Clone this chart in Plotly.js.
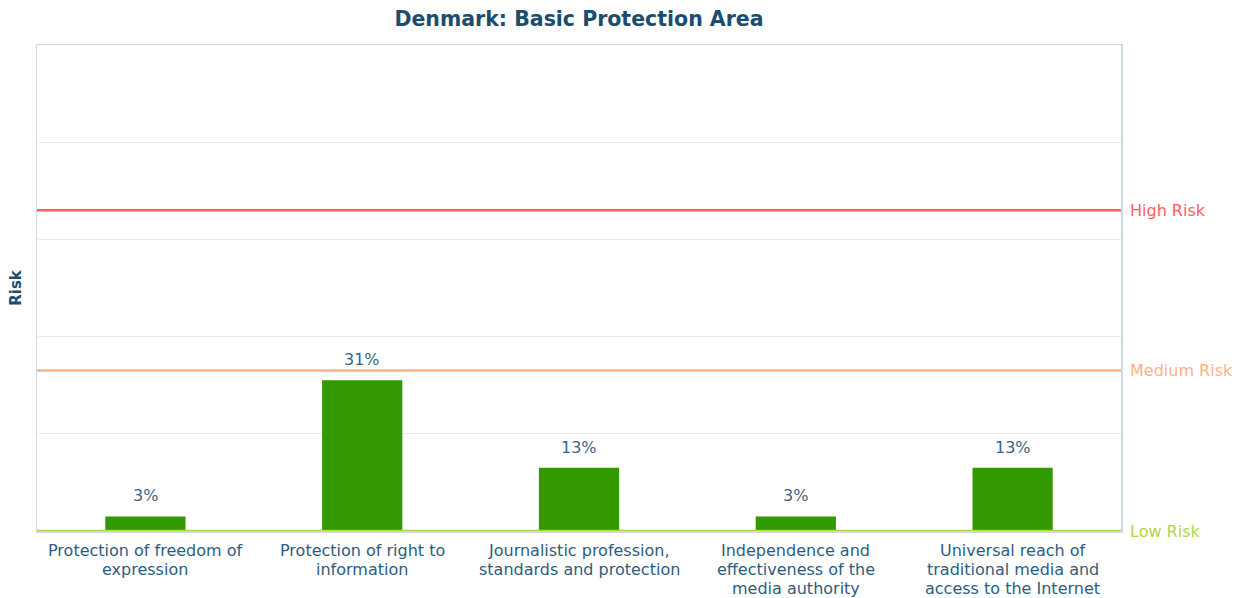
<!DOCTYPE html>
<html>
<head>
<meta charset="utf-8">
<script src="https://cdn.plot.ly/plotly-3.0.1.min.js"></script>
<style>html,body{margin:0;padding:0;background:#fff;}#chart{width:1241px;height:598px;}</style>
</head>
<body>
<div id="chart"></div>
<script>
const categories = [
  "Protection of freedom of<br>expression",
  "Protection of right to<br>information",
  "Journalistic profession,<br>standards and protection",
  "Independence and<br>effectiveness of the<br>media authority",
  "Universal reach of<br>traditional media and<br>access to the Internet"
];
const riskValues = [3, 31, 13, 3, 13];
const riskLabels = ["3%", "31%", "13%", "3%", "13%"];
const thresholdNames = ["High Risk", "Medium Risk", "Low Risk"];
const thresholdValues = [66, 33, 0];
const thresholdColors = ["#ff5c5c", "#ffb184", "#b3d447"];

const font = "DejaVu Sans, sans-serif";
const textColor = "#2d5d7d";

const trace = {
  type: "bar",
  x: categories,
  y: riskValues,
  marker: {color: "#339900"},
  width: 0.37,
  hoverinfo: "none"
};

const shapes = thresholdValues.map((v, i) => ({
  type: "line", xref: "paper", x0: 0, x1: 1, yref: "y", y0: v, y1: v,
  line: {color: thresholdColors[i], width: 2.5}, layer: "above"
}));

let annotations = thresholdValues.map((v, i) => ({
  xref: "paper", x: 1, xanchor: "left", xshift: 7,
  yref: "y", y: v, yanchor: "middle",
  text: thresholdNames[i], showarrow: false,
  font: {family: font, size: 16, color: thresholdColors[i]}
})).concat(categories.map((c, i) => ({
  xref: "x", x: c, yref: "y", y: riskValues[i], yanchor: "bottom", yshift: 9,
  text: riskLabels[i], showarrow: false,
  font: {family: font, size: 16, color: "#3a6585"}
})));

// category labels (one annotation per line for tighter line spacing)
categories.forEach((c) => {
  c.split("<br>").forEach((line, k) => {
    annotations.push({
      xref: "x", x: c, yref: "paper", y: 0, yanchor: "middle",
      yshift: -(19 + 19 * k),
      text: line, showarrow: false,
      font: {family: font, size: 16, color: textColor}
    });
  });
});

const layout = {
  width: 1241, height: 598,
  margin: {l: 37, r: 120, t: 45, b: 67},
  paper_bgcolor: "#ffffff", plot_bgcolor: "#ffffff",
  showlegend: false,
  title: {
    text: "<b>Denmark: Basic Protection Area</b>",
    x: 0.5, xref: "paper", y: 0.968, yanchor: "middle",
    font: {family: font, size: 20.5, color: "#1c4c6e"}
  },
  xaxis: {
    showline: true, mirror: true, linecolor: "#cdd9e2", linewidth: 1.5,
    showgrid: false, zeroline: false, ticks: "", showticklabels: false
  },
  yaxis: {
    range: [0, 100], dtick: 20, showticklabels: false,
    showgrid: true, gridcolor: "#e9edf0", gridwidth: 1,
    showline: true, mirror: true, linecolor: "#cdd9e2", linewidth: 1.5,
    zeroline: false, ticks: "",
    title: {text: "<b>Risk</b>", standoff: 10, font: {family: font, size: 15, color: "#1c4c6e"}}
  },
  shapes: shapes,
  annotations: annotations
};

Plotly.newPlot("chart", [trace], layout, {displayModeBar: false, staticPlot: true});
</script>
</body>
</html>
